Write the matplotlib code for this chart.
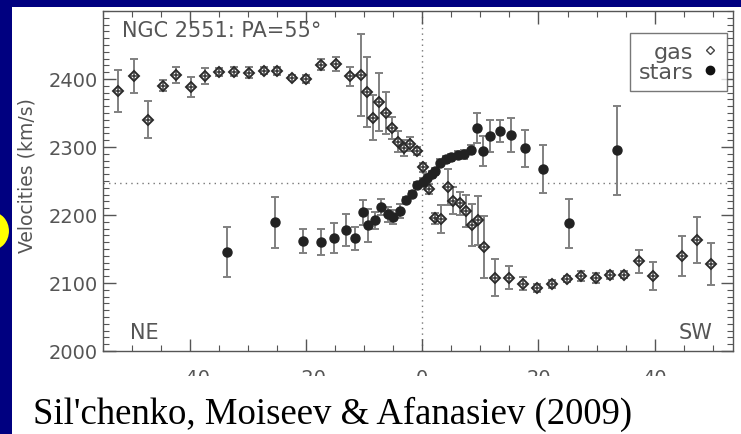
import matplotlib
matplotlib.use("Agg")
import matplotlib.pyplot as plt
from matplotlib.patches import Rectangle, Ellipse
from matplotlib.lines import Line2D
from matplotlib.ticker import MultipleLocator

# ---------------- data ----------------
gas_x = [-52.4, -49.7, -47.3, -44.7, -42.4, -39.8, -37.4, -35.0, -32.4, -29.9,
         -27.3, -25.0, -22.5, -20.1, -17.4, -14.9, -12.4, -10.5, -9.5, -8.5,
         -7.4, -6.3, -5.3, -4.2, -3.2, -2.1, -1.0, 0.15, 1.1, 2.1,
         3.2, 4.4, 5.3, 6.4, 7.6, 8.6, 9.5, 10.7, 12.5, 14.9,
         17.4, 19.8, 22.4, 24.9, 27.3, 29.9, 32.3, 34.8, 37.3, 39.8,
         44.8, 47.3, 49.7]
gas_v = [2382, 2404, 2340, 2390, 2406, 2388, 2404, 2410, 2411, 2409,
         2412, 2412, 2402, 2400, 2421, 2422, 2404, 2406, 2381, 2343,
         2366, 2350, 2328, 2308, 2299, 2304, 2294, 2270, 2238, 2195,
         2194, 2241, 2221, 2217, 2206, 2185, 2192, 2153, 2108, 2108,
         2099, 2093, 2098, 2106, 2110, 2107, 2112, 2112, 2132, 2110,
         2140, 2163, 2128]
gas_err = [31, 25, 27, 8, 12, 15, 12, 6, 6, 8,
           5, 6, 4, 6, 8, 10, 14, 60, 52, 33,
           43, 31, 16, 16, 12, 10, 6, 7, 7, 8,
           21, 27, 20, 17, 23, 31, 36, 46, 27, 17,
           10, 6, 6, 5, 7, 7, 6, 5, 17, 21,
           29, 34, 31]

stars_x = [-33.6, -25.3, -20.6, -17.5, -15.2, -13.2, -11.6, -10.3, -9.4, -8.2,
           -7.1, -6.0, -5.0, -3.9, -2.9, -1.7, -0.9, 0.15, 0.8, 1.6,
           2.2, 3.0, 4.0, 5.0, 6.1, 7.1, 8.3, 9.4, 10.4, 11.7,
           13.3, 15.2, 17.6, 20.7, 25.3, 33.6]
stars_v = [2146, 2189, 2162, 2160, 2166, 2178, 2166, 2204, 2185, 2192,
           2212, 2201, 2197, 2206, 2222, 2231, 2244, 2249, 2255, 2260,
           2264, 2277, 2282, 2285, 2288, 2289, 2296, 2328, 2294, 2316,
           2324, 2317, 2298, 2268, 2188, 2295]
stars_err = [37, 37, 18, 19, 22, 24, 17, 18, 24, 12,
             12, 11, 10, 10, 5, 5, 5, 5, 5, 5,
             5, 5, 5, 5, 6, 7, 7, 22, 22, 23,
             16, 25, 27, 35, 36, 65]

v_sys = 2247
x_ticks = [-40, -20, 0, 20, 40]
y_ticks = [2000, 2100, 2200, 2300, 2400]

title_text = "NGC 2551: PA=55\u00b0"
ylabel_text = "Velocities (km/s)"
caption_text = "Sil'chenko, Moiseev & Afanasiev (2009)"

# ---------------- figure ----------------
W, H = 741, 435
fig = plt.figure(figsize=(W / 100, H / 100), dpi=100)
fig.patch.set_facecolor("#000080")

# white slide panel
fig.patches.append(Rectangle((12 / W, 0), 1 - 12 / W, (H - 8) / H,
                             transform=fig.transFigure, facecolor="white",
                             edgecolor="none", zorder=-10))
# yellow bullet at left edge
fig.patches.append(Ellipse((-8 / W, 1 - 232 / H), 36 / W, 40 / H,
                           transform=fig.transFigure, facecolor="#ffff00",
                           edgecolor="#000080", lw=1.5, zorder=-5))

gray = "#555555"
ax = fig.add_axes([103 / W, (H - 352) / H, (733 - 103) / W, (352 - 12) / H])
ax.set_zorder(1)
ax.set_facecolor("white")
ax.set_xlim(-55, 53.5)
ax.set_ylim(2000, 2500)

# reference lines
ax.axvline(0, color="#777777", lw=1.0, ls=(0, (1, 3)), zorder=1)
ax.axhline(v_sys, color="#777777", lw=1.0, ls=(0, (1, 3)), zorder=1)

ebar_color = "#808080"
ax.errorbar(gas_x, gas_v, yerr=gas_err, fmt="none", ecolor=ebar_color,
            elinewidth=1.4, capsize=3, capthick=1.4, zorder=2)
ax.errorbar(stars_x, stars_v, yerr=stars_err, fmt="none", ecolor=ebar_color,
            elinewidth=1.4, capsize=3, capthick=1.4, zorder=2)
ax.plot(gas_x, gas_v, ls="none", marker="D", ms=5.5, mfc="white", mec="#2a2a2a",
        mew=1.4, zorder=3)
ax.plot(gas_x, gas_v, ls="none", marker="+", ms=5.5, mec="#3a3a3a", mew=1.1, zorder=4)
ax.plot(stars_x, stars_v, ls="none", marker="o", ms=6.5, mfc="#222222",
        mec="#222222", zorder=5)

# ticks
ax.set_xticks(x_ticks)
ax.set_yticks(y_ticks)
ax.xaxis.set_minor_locator(MultipleLocator(5))
ax.yaxis.set_minor_locator(MultipleLocator(10))
ax.tick_params(which="both", direction="in", top=True, right=True, color=gray,
               labelcolor=gray)
ax.tick_params(which="major", length=9, width=1.0, labelsize=14)
ax.tick_params(which="minor", length=4.5, width=0.8)
ax.tick_params(axis="x", pad=12)
ax.tick_params(axis="y", pad=4)
ax.set_xticklabels(["\u221240", "\u221220", "0", "20", "40"])
for s in ax.spines.values():
    s.set_color(gray)
    s.set_linewidth(1.0)

ax.set_ylabel(ylabel_text, color=gray, fontsize=13.5)
ax.yaxis.set_label_coords(-0.105, 0.52)

ax.text(19 / 630, 1 - 19 / 340, title_text, transform=ax.transAxes,
        fontsize=15, color=gray, va="center", ha="left")
ax.text(27 / 630, 13 / 340, "NE", transform=ax.transAxes, fontsize=15,
        color=gray, va="baseline", ha="left")
ax.text(610 / 630, 13 / 340, "SW", transform=ax.transAxes, fontsize=15,
        color=gray, va="baseline", ha="right")

handles = [Line2D([], [], ls="none", marker="D", ms=4.5, mfc="white",
                  mec="#444444", mew=1.0),
           Line2D([], [], ls="none", marker="o", ms=6, mfc="#111111",
                  mec="#111111")]
leg = ax.legend(handles, ["gas", "stars"], loc="upper right",
                bbox_to_anchor=(0.99, 0.935), borderaxespad=0, markerfirst=False,
                fontsize=16, handlelength=0.7, handletextpad=0.4,
                labelspacing=0.0, borderpad=0.4, fancybox=False, frameon=True)
leg.get_frame().set_edgecolor(gray)
leg.get_frame().set_linewidth(1.0)
for t in leg.get_texts():
    t.set_color(gray)

# caption block covering lower part of tick labels
fig.patches.append(Rectangle((12 / W, 0), 1 - 12 / W, (H - 377) / H,
                             transform=fig.transFigure, facecolor="white",
                             edgecolor="none", zorder=10))
fig.text(33 / W, (H - 424) / H, caption_text, fontsize=26.5,
         family="Liberation Serif", color="black", ha="left", va="baseline",
         zorder=11)

fig.savefig("out.png", dpi=100, facecolor=fig.get_facecolor())
